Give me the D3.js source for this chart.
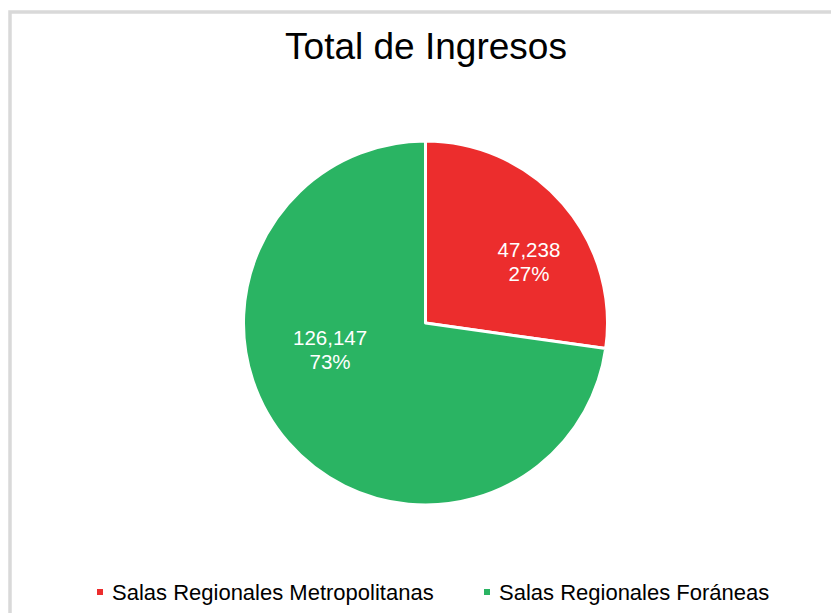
<!DOCTYPE html>
<html>
<head>
<meta charset="utf-8">
<script src="https://cdn.jsdelivr.net/npm/d3@7"></script>
<style>
  body { margin: 0; background: #fff; }
  svg { display: block; font-family: "Liberation Sans", Arial, sans-serif; }
</style>
</head>
<body>
<div id="chart"></div>
<script>
// data
var categories = ["Salas Regionales Metropolitanas", "Salas Regionales Foráneas"];
var values = [47238, 126147];
var colors = ["#ec2d2d", "#2ab463"];
var title = "Total de Ingresos";

var width = 831, height = 613;
var cx = 425.5, cy = 323, radius = 182;
// excel places the labels a bit off the centroid
var labelNudge = [[21, 10], [-13, -46]];

var svg = d3.select("#chart").append("svg")
    .attr("width", width)
    .attr("height", height);

svg.append("rect")
    .attr("width", width).attr("height", height)
    .attr("fill", "#fff");

// chart frame, runs off right / bottom
svg.append("rect")
    .attr("x", 10).attr("y", 12)
    .attr("width", 900).attr("height", 800)
    .attr("fill", "none")
    .attr("stroke", "#d9d9d9")
    .attr("stroke-width", 3.5);

svg.append("text")
    .attr("x", cx + 0.5).attr("y", 59)
    .attr("text-anchor", "middle")
    .attr("font-size", 37)
    .attr("fill", "#000")
    .text(title);

var total = d3.sum(values);
var pie = d3.pie().sort(null).value(function(d) { return d; });
var arcs = pie(values);

var arc = d3.arc().innerRadius(0).outerRadius(radius);
var labelArc = d3.arc().innerRadius(radius * 0.6).outerRadius(radius * 0.6);

var g = svg.append("g").attr("transform", "translate(" + cx + "," + cy + ")");

g.selectAll("path").data(arcs).enter().append("path")
    .attr("d", arc)
    .attr("fill", function(d, i) { return colors[i]; })
    .attr("stroke", "#fff")
    .attr("stroke-width", 3)
    .attr("stroke-linejoin", "round");

var fmt = d3.format(",");
var lbl = g.selectAll("g.lbl").data(arcs).enter().append("g")
    .attr("class", "lbl")
    .attr("transform", function(d, i) {
        var c = labelArc.centroid(d);
        return "translate(" + (c[0] + labelNudge[i][0]) + "," + (c[1] + labelNudge[i][1]) + ")";
    });
lbl.append("text")
    .attr("text-anchor", "middle")
    .attr("y", -4)
    .attr("font-size", 20.5)
    .attr("fill", "#fff")
    .text(function(d) { return fmt(d.data); });
lbl.append("text")
    .attr("text-anchor", "middle")
    .attr("y", 20)
    .attr("font-size", 20.5)
    .attr("fill", "#fff")
    .text(function(d) { return Math.round(d.data / total * 100) + "%"; });

// legend
var legendX = [97, 484];
var leg = svg.selectAll("g.leg").data(categories).enter().append("g")
    .attr("class", "leg")
    .attr("transform", function(d, i) { return "translate(" + legendX[i] + ",589)"; });
leg.append("rect")
    .attr("width", 6).attr("height", 6)
    .attr("fill", function(d, i) { return colors[i]; });
leg.append("text")
    .attr("x", 15).attr("y", 11)
    .attr("font-size", 22)
    .attr("fill", "#000")
    .text(function(d) { return d; });
</script>
</body>
</html>
